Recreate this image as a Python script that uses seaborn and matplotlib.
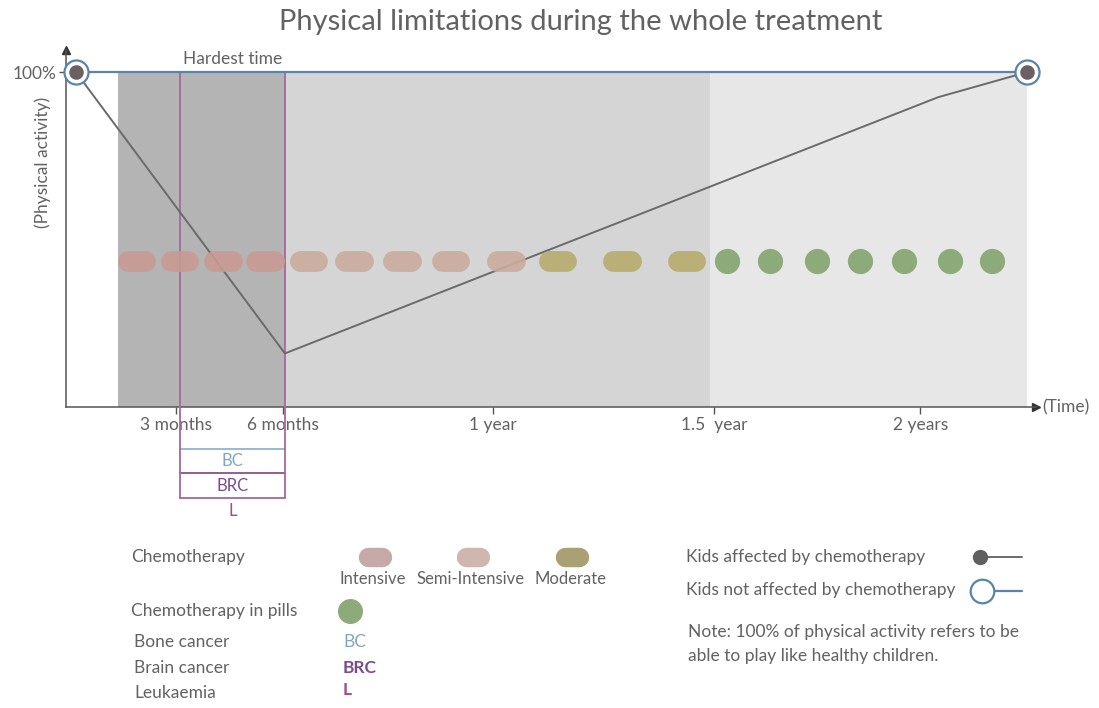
import numpy as np
import pandas as pd
import matplotlib
matplotlib.use("Agg")
from matplotlib import pyplot as plt
import seaborn as sns

# ---- data (time in months, activity in %) ----
phase_start = [1.46, 6.15, 18.1]
phase_end = [6.15, 18.1, 27.0]
phase_colors = ["#b4b4b4", "#d5d5d5", "#e7e7e7"]

affected_months = [0.28, 6.15, 24.5, 27.0]
affected_activity = [100, 16, 92.5, 100]
healthy_months = [0.28, 27.0]
healthy_activity = [100, 100]

chemo_months = [1.99, 3.20, 4.41, 5.59, 6.80, 8.09, 9.44, 10.81, 12.36, 13.82, 15.62, 17.44]
chemo_types = ["Intensive"] * 4 + ["Semi-Intensive"] * 5 + ["Moderate"] * 3
pill_months = [18.57, 19.78, 21.10, 22.30, 23.54, 24.83, 26.01]
chemo_level = 43.6

hardest_start, hardest_end = 3.2, 6.15

tick_months = [3.1, 6.1, 12, 18.2, 24]
tick_labels = ["3 months", "6 months", "1 year", "1.5  year", "2 years"]

chemo_colors = {"Intensive": "#c99a93", "Semi-Intensive": "#c9ab9d", "Moderate": "#b7ab6c"}
legend_chemo_colors = {"Intensive": "#c6aaa9", "Semi-Intensive": "#cfb7b0", "Moderate": "#a9a173"}
green = "#8dab7a"
gray_line = "#6a6a6a"
blue_line = "#5a84aa"
txt = "#626262"

sns.set_theme(style="white")
plt.rcParams["font.family"] = ["Lato", "DejaVu Sans"]

fig = plt.figure(figsize=(10.99, 7.08), dpi=100)
ax = fig.add_axes([66 / 1099, (708 - 407) / 708, (1036 - 66) / 1099, (407 - 50) / 708])
ax.set_xlim(0, 27.25)
ax.set_ylim(0, 106.6)

# treatment phases
for s, e, c in zip(phase_start, phase_end, phase_colors):
    ax.fill_between([s, e], 0, 100, color=c, lw=0, zorder=0)

# hardest time box
for xm in [hardest_start, hardest_end]:
    ax.plot([xm, xm], [100, -27.2], color="#a567a0", lw=1.3, clip_on=False, zorder=3)
ax.plot([hardest_start, hardest_end], [-12.5, -12.5], color="#8fb3d2", lw=1.3, clip_on=False)
ax.plot([hardest_start, hardest_end], [-19.8, -19.8], color="#8a4f8c", lw=1.3, clip_on=False)
ax.plot([hardest_start, hardest_end], [-27.2, -27.2], color="#a567a0", lw=1.3, clip_on=False)
mid = (hardest_start + hardest_end) / 2
ax.text(mid, -16.2, "BC", color="#7fa6c8", ha="center", va="center", fontsize=12)
ax.text(mid, -23.6, "BRC", color="#7b4b8e", ha="center", va="center", fontsize=12)
ax.text(mid, -31.0, "L", color="#a34c8c", ha="center", va="center", fontsize=12)
ax.text(mid, 103.8, "Hardest time", color=txt, ha="center", va="center", fontsize=12.5)

# lines
aff = pd.DataFrame({"month": affected_months, "activity": affected_activity})
hea = pd.DataFrame({"month": healthy_months, "activity": healthy_activity})
sns.lineplot(data=hea, x="month", y="activity", color=blue_line, lw=1.6, ax=ax, zorder=4)
sns.lineplot(data=aff, x="month", y="activity", color=gray_line, lw=1.4, ax=ax, zorder=4)

# chemotherapy pills
for m, t in zip(chemo_months, chemo_types):
    ax.plot([m - 0.24, m + 0.24], [chemo_level, chemo_level], color=chemo_colors[t],
            lw=15, solid_capstyle="round", alpha=0.9, zorder=5)
pills = pd.DataFrame({"month": pill_months, "activity": [chemo_level] * len(pill_months)})
sns.scatterplot(data=pills, x="month", y="activity", color=green, s=330, linewidth=0, ax=ax, zorder=5)

# end points
ends = pd.DataFrame({"month": healthy_months, "activity": healthy_activity})
sns.scatterplot(data=ends, x="month", y="activity", s=300, color="white", edgecolor=blue_line,
                linewidth=1.6, ax=ax, zorder=6, clip_on=False)
sns.scatterplot(data=ends, x="month", y="activity", s=110, color="#6b6163", linewidth=0,
                ax=ax, zorder=7, clip_on=False)

# axes styling
for sp in ["top", "right"]:
    ax.spines[sp].set_visible(False)
for sp in ["left", "bottom"]:
    ax.spines[sp].set_color("#555555")
    ax.spines[sp].set_linewidth(1.1)
ax.plot(1, 0, ">", color="#333333", ms=6, transform=ax.transAxes, clip_on=False)
ax.plot(0, 1, "^", color="#333333", ms=6, transform=ax.transAxes, clip_on=False)
ax.set_xticks(tick_months)
ax.set_xticklabels(tick_labels)
ax.set_yticks([100])
ax.set_yticklabels(["100%"])
ax.tick_params(axis="both", colors="#555555", labelcolor=txt, labelsize=12.5, length=5,
               width=1, direction="out", bottom=True, left=True, pad=2)
ax.set_xlabel("")
ax.set_ylabel("")
ax.text(1.006, 0, "(Time)", transform=ax.transAxes, ha="left", va="center", color=txt, fontsize=12.5)
ax.text(-0.024, 73, "(Physical activity)", transform=ax.get_yaxis_transform(), rotation=90,
        ha="center", va="center", color=txt, fontsize=12.5)

fig.text(0.528, 1 - 22 / 708, "Physical limitations during the whole treatment",
         ha="center", va="center", fontsize=21, color=txt)

# ---- legend area in pixel coordinates ----
lg = fig.add_axes([0, 0, 1, 1])
lg.set_xlim(0, 1099)
lg.set_ylim(708, 0)
lg.axis("off")
lg.patch.set_alpha(0)

fs = 12.5
lg.text(131, 557, "Chemotherapy", color=txt, fontsize=fs, va="center")
legend_x = [375, 473, 572]
for lx, t in zip(legend_x, ["Intensive", "Semi-Intensive", "Moderate"]):
    lg.plot([lx - 7, lx + 7], [557, 557], color=legend_chemo_colors[t], lw=14,
            solid_capstyle="round")
    lg.text(lx - 2, 579, t, color=txt, fontsize=12, ha="center", va="center")
lg.text(131, 611, "Chemotherapy in pills", color=txt, fontsize=fs, va="center")
lg.plot(350, 611, "o", color=green, ms=17)
lg.text(134, 642, "Bone cancer", color=txt, fontsize=fs, va="center")
lg.text(343, 642, "BC", color="#7fa6c8", fontsize=fs, va="center")
lg.text(134, 668, "Brain cancer", color=txt, fontsize=fs, va="center")
lg.text(343, 668, "BRC", color="#7b4b8e", fontsize=fs, va="center", fontweight="bold")
lg.text(134, 693, "Leukaemia", color=txt, fontsize=fs, va="center")
lg.text(343, 690, "L", color="#a34c8c", fontsize=fs, va="center", fontweight="bold")

lg.text(686, 557, "Kids affected by chemotherapy", color=txt, fontsize=fs, va="center")
lg.plot([980, 1022], [557, 557], color=gray_line, lw=1.4)
lg.plot(980, 557, "o", color="#5f5f5f", ms=10)
lg.text(686, 590, "Kids not affected by chemotherapy", color=txt, fontsize=fs, va="center")
lg.plot([994, 1022], [591, 591], color=blue_line, lw=1.6)
lg.plot(982, 591, "o", mfc="white", mec=blue_line, mew=1.6, ms=17)
lg.text(688, 632, "Note: 100% of physical activity refers to be", color=txt, fontsize=fs, va="center")
lg.text(688, 656, "able to play like healthy children.", color=txt, fontsize=fs, va="center")

fig.savefig("out.png", dpi=100)
